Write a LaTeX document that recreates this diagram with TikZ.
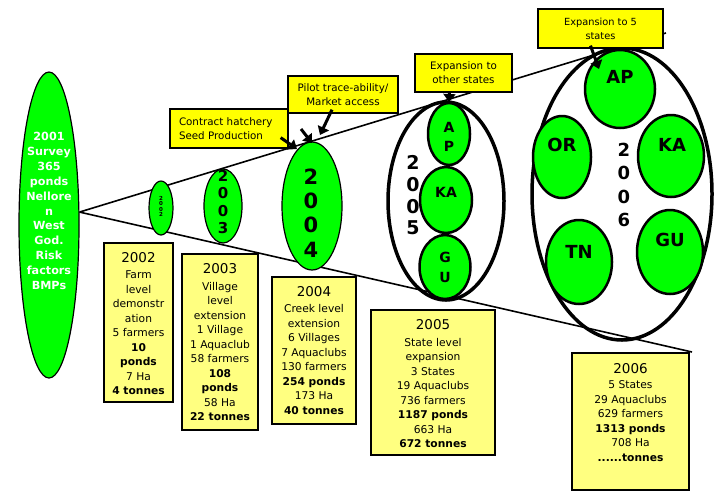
\documentclass[tikz,border=0pt]{standalone}
\usepackage{fontspec}
\setmainfont{DejaVu Sans}
\usetikzlibrary{shapes.geometric,arrows.meta}
\definecolor{vgreen}{RGB}{0,255,0}
\definecolor{cyellow}{RGB}{255,255,0}
\definecolor{dyellow}{RGB}{255,255,128}
\begin{document}
\begin{tikzpicture}[x=1pt,y=-1pt,
  oval/.style={ellipse, draw=black, fill=vgreen, inner sep=0pt, line width=1.2pt},
  ring/.style={ellipse, draw=black, line width=3.5pt, inner sep=0pt},
  statebub/.style={ellipse, draw=black, fill=vgreen, line width=2.5pt, inner sep=0pt},
  statetxt/.style={inner sep=0pt, font=\fontsize{18}{21}\selectfont\bfseries},
  yeartxt/.style={inner sep=0pt, align=center, font=\bfseries},
  databox/.style={rectangle, draw=black, fill=dyellow, line width=1.5pt, inner sep=0pt},
  datatext/.style={align=center, inner sep=0pt, anchor=north, font=\fontsize{10.7}{14.5}\selectfont},
  callout/.style={rectangle, draw=black, fill=cyellow, line width=1.3pt, inner sep=0pt, align=center, font=\fontsize{10.3}{14}\selectfont},
  pointer/.style={line width=3pt, -{Triangle[length=8pt,width=12pt]}},
  timeline/.style={line width=1.6pt}]
\useasboundingbox (0,0) rectangle (719,491);

% 2001 ellipse
\node[oval, minimum width=60pt, minimum height=306pt] (e2001) at (49,225) {};
\node[yeartxt, text=white, font=\fontsize{11.2}{14.9}\selectfont\bfseries] (t2001) at (49,211)
  {2001\\Survey\\365\\ponds\\Nellore\\n\\West\\God.\\Risk\\factors\\BMPs};

% timeline cone
\coordinate (topend) at (666,33);
\coordinate (botend) at (692,352);
\draw[timeline] (e2001.23) -- (topend);
\draw[timeline] (e2001.23) -- (botend);

% data boxes
\node[databox, minimum width=69pt, minimum height=159pt] (b2002) at (138.5,322.5) {};
\node[datatext] (t2002) at (138.5,252.7) {{\fontsize{13.5}{17}\selectfont 2002}\\[1.5pt]Farm\\level\\demonstr\\ation\\5 farmers\\\textbf{10}\\\textbf{ponds}\\7 Ha\\\textbf{4 tonnes}};

\node[databox, minimum width=76pt, minimum height=176pt] (b2003) at (220,342) {};
\node[datatext] (t2003) at (220,263.7) {{\fontsize{13.5}{17}\selectfont 2003}\\[2pt]Village\\level\\extension\\1 Village\\1 Aquaclub\\58 farmers\\\textbf{108}\\\textbf{ponds}\\58 Ha\\\textbf{22 tonnes}};

\node[databox, minimum width=84pt, minimum height=147pt] (b2004) at (314,350.5) {};
\node[datatext] (t2004) at (314,286.7) {{\fontsize{13.5}{17}\selectfont 2004}\\[1.5pt]Creek level\\extension\\6 Villages\\7 Aquaclubs\\130 farmers\\\textbf{254 ponds}\\173 Ha\\\textbf{40 tonnes}};

\node[databox, minimum width=124pt, minimum height=145pt] (b2005) at (433,382.5) {};
\node[datatext] (t2005) at (433,319.7) {{\fontsize{13.5}{17}\selectfont 2005}\\[2pt]State level\\expansion\\3 States\\19 Aquaclubs\\736 farmers\\\textbf{1187 ponds}\\663 Ha\\\textbf{672 tonnes}};

\node[databox, minimum width=117pt, minimum height=137pt] (b2006) at (630.5,421.5) {};
\node[datatext] (t2006) at (630.5,363.7) {{\fontsize{13.5}{17}\selectfont 2006}\\[0.5pt]5 States\\29 Aquaclubs\\629 farmers\\\textbf{1313 ponds}\\708 Ha\\\textbf{......tonnes}};

% small year ellipses
\node[oval, minimum width=24pt, minimum height=54pt] (e2002) at (161,208) {};
\node[yeartxt, font=\fontsize{5.5}{5.6}\selectfont\bfseries] (y2002) at (161,206.5) {2\\0\\0\\2};

\node[oval, minimum width=38pt, minimum height=74pt] (e2003) at (223,206) {};
\node[yeartxt, font=\fontsize{15}{17.3}\selectfont\bfseries] (y2003) at (223,202) {2\\0\\0\\3};

\node[oval, minimum width=60pt, minimum height=128pt] (e2004) at (312,206) {};
\node[yeartxt, font=\fontsize{21}{24.3}\selectfont\bfseries] (y2004) at (311,213) {2\\0\\0\\4};

% 2005
\node[ring, minimum width=116pt, minimum height=198pt] (e2005) at (446,201) {};
\node[yeartxt, font=\fontsize{19}{21.7}\selectfont\bfseries] (y2005) at (413,195.5) {2\\0\\0\\5};
\node[statebub, minimum width=42pt, minimum height=62pt] (ap5) at (449,134) {};
\node[yeartxt, font=\fontsize{14}{19.5}\selectfont\bfseries] (tap5) at (449,137) {A\\P};
\node[statebub, minimum width=52pt, minimum height=66pt] (ka5) at (446,200) {};
\node[yeartxt, font=\fontsize{14}{19.5}\selectfont\bfseries] (tka5) at (446,192) {KA};
\node[statebub, minimum width=51pt, minimum height=64pt] (gu5) at (445,267) {};
\node[yeartxt, font=\fontsize{14}{19.5}\selectfont\bfseries] (tgu5) at (445,267.5) {G\\U};

% 2006
\node[ring, minimum width=180pt, minimum height=292pt] (e2006) at (622,194) {};
\node[yeartxt, font=\fontsize{18}{23.3}\selectfont\bfseries] (y2006) at (624,185) {2\\0\\0\\6};
\node[statebub, minimum width=70pt, minimum height=78pt] (ap6) at (620,89) {};
\node[statetxt] (tap6) at (620,77) {AP};
\node[statebub, minimum width=58pt, minimum height=82pt] (or6) at (562,157) {};
\node[statetxt] (tor6) at (562,145) {OR};
\node[statebub, minimum width=66pt, minimum height=82pt] (ka6) at (671,156) {};
\node[statetxt] (tka6) at (672,145) {KA};
\node[statebub, minimum width=66pt, minimum height=84pt] (tn6) at (579,262) {};
\node[statetxt] (ttn6) at (579,252) {TN};
\node[statebub, minimum width=66pt, minimum height=84pt] (gu6) at (670,252) {};
\node[statetxt] (tgu6) at (670,240) {GU};

% callouts
\node[callout, minimum height=39pt, text width=100pt, inner xsep=9pt, align=left] (contract) at (229,128.5) {Contract hatchery\\Seed Production};
\node[callout, minimum width=110pt, minimum height=37pt] (pilot) at (343,94.5) {Pilot trace-ability/\\Market access};
\node[callout, minimum width=97pt, minimum height=38pt] (other) at (463.5,73) {Expansion to\\other states};
\node[callout, minimum width=125pt, minimum height=39pt, font=\fontsize{9.8}{14}\selectfont] (five) at (600.5,28.5) {Expansion to 5\\states};

% pointers
\coordinate (c1) at (297,149);
\coordinate (c2s) at (301,129);
\coordinate (c2) at (312,143);
\coordinate (c3) at (320,135);
\coordinate (c4) at (449,102);
\coordinate (c5) at (599,69);
\draw[pointer] ([shift={(-8,-11)}]contract.south east) -- (c1);
\draw[pointer] (c2s) -- (c2);
\draw[pointer] ([shift={(-11,-4)}]pilot.south) -- (c3);
\draw[pointer] ([shift={(-14,-1)}]other.south) -- (c4);
\draw[pointer] ([shift={(-10,-3)}]five.south) -- (c5);
\end{tikzpicture}
\end{document}
